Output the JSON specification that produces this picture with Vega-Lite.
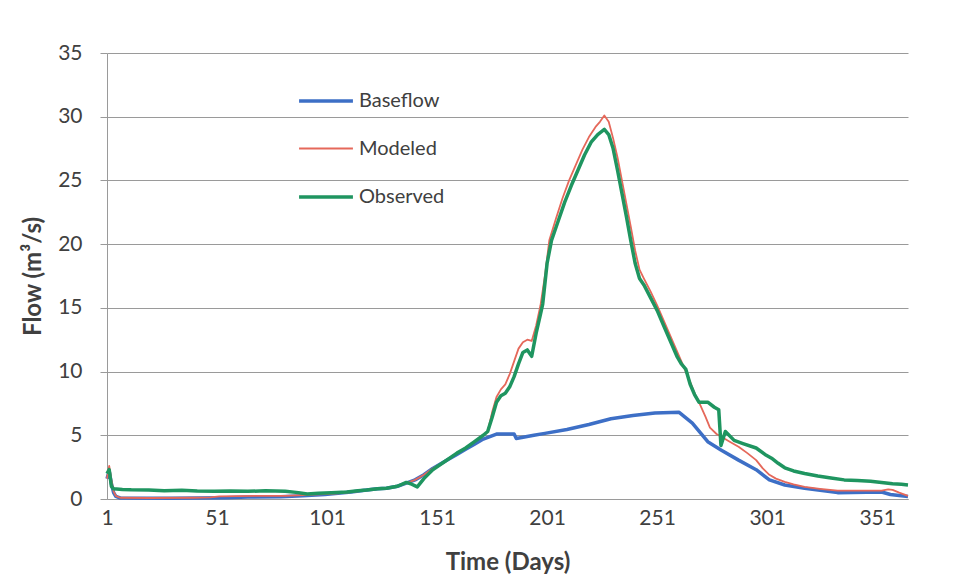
{
  "$schema": "https://vega.github.io/schema/vega-lite/v6.json",
  "width": 801,
  "height": 446,
  "autosize": {"type": "none"},
  "padding": {"left": 107, "top": 53, "right": 52, "bottom": 81},
  "background": "white",
  "config": {
    "view": {"stroke": null},
    "font": "Lato",
    "axis": {"labelFont": "Lato", "titleFont": "Lato", "labelColor": "#404040", "titleColor": "#404040"},
    "legend": {"labelFont": "Lato"}
  },
  "datasets": {
    "flows": [
      {"day": 1, "series": "Baseflow", "flow": 1.6}, {"day": 2, "series": "Baseflow", "flow": 2.2}, {"day": 3, "series": "Baseflow", "flow": 1.2}, {"day": 4, "series": "Baseflow", "flow": 0.5}, {"day": 5, "series": "Baseflow", "flow": 0.2}, {"day": 7, "series": "Baseflow", "flow": 0.08}, {"day": 30, "series": "Baseflow", "flow": 0.06}, {"day": 55, "series": "Baseflow", "flow": 0.1}, {"day": 65, "series": "Baseflow", "flow": 0.15}, {"day": 80, "series": "Baseflow", "flow": 0.18}, {"day": 90, "series": "Baseflow", "flow": 0.25}, {"day": 100, "series": "Baseflow", "flow": 0.35}, {"day": 106, "series": "Baseflow", "flow": 0.45}, {"day": 112, "series": "Baseflow", "flow": 0.55}, {"day": 119, "series": "Baseflow", "flow": 0.7}, {"day": 124, "series": "Baseflow", "flow": 0.8}, {"day": 128, "series": "Baseflow", "flow": 0.85}, {"day": 133, "series": "Baseflow", "flow": 1.0}, {"day": 137, "series": "Baseflow", "flow": 1.25}, {"day": 141, "series": "Baseflow", "flow": 1.5}, {"day": 145, "series": "Baseflow", "flow": 1.9}, {"day": 149, "series": "Baseflow", "flow": 2.4}, {"day": 155, "series": "Baseflow", "flow": 3.0}, {"day": 160, "series": "Baseflow", "flow": 3.5}, {"day": 164, "series": "Baseflow", "flow": 3.9}, {"day": 168, "series": "Baseflow", "flow": 4.3}, {"day": 172, "series": "Baseflow", "flow": 4.7}, {"day": 175, "series": "Baseflow", "flow": 4.9}, {"day": 178, "series": "Baseflow", "flow": 5.1}, {"day": 186, "series": "Baseflow", "flow": 5.1}, {"day": 187, "series": "Baseflow", "flow": 4.75}, {"day": 195, "series": "Baseflow", "flow": 5.0}, {"day": 200, "series": "Baseflow", "flow": 5.15}, {"day": 210, "series": "Baseflow", "flow": 5.45}, {"day": 220, "series": "Baseflow", "flow": 5.85}, {"day": 230, "series": "Baseflow", "flow": 6.3}, {"day": 240, "series": "Baseflow", "flow": 6.55}, {"day": 250, "series": "Baseflow", "flow": 6.75}, {"day": 261, "series": "Baseflow", "flow": 6.8}, {"day": 267, "series": "Baseflow", "flow": 5.95}, {"day": 274, "series": "Baseflow", "flow": 4.5}, {"day": 280, "series": "Baseflow", "flow": 3.85}, {"day": 288, "series": "Baseflow", "flow": 3.05}, {"day": 296, "series": "Baseflow", "flow": 2.3}, {"day": 302, "series": "Baseflow", "flow": 1.5}, {"day": 309, "series": "Baseflow", "flow": 1.1}, {"day": 318, "series": "Baseflow", "flow": 0.85}, {"day": 333, "series": "Baseflow", "flow": 0.5}, {"day": 353, "series": "Baseflow", "flow": 0.55}, {"day": 357, "series": "Baseflow", "flow": 0.35}, {"day": 365, "series": "Baseflow", "flow": 0.2},

      {"day": 1, "series": "Modeled", "flow": 1.6}, {"day": 2, "series": "Modeled", "flow": 2.6}, {"day": 3, "series": "Modeled", "flow": 1.5}, {"day": 4, "series": "Modeled", "flow": 0.6}, {"day": 5, "series": "Modeled", "flow": 0.25}, {"day": 7, "series": "Modeled", "flow": 0.1}, {"day": 20, "series": "Modeled", "flow": 0.08}, {"day": 40, "series": "Modeled", "flow": 0.1}, {"day": 48, "series": "Modeled", "flow": 0.12}, {"day": 52, "series": "Modeled", "flow": 0.2}, {"day": 60, "series": "Modeled", "flow": 0.22}, {"day": 70, "series": "Modeled", "flow": 0.25}, {"day": 82, "series": "Modeled", "flow": 0.25}, {"day": 90, "series": "Modeled", "flow": 0.3}, {"day": 100, "series": "Modeled", "flow": 0.38}, {"day": 106, "series": "Modeled", "flow": 0.45}, {"day": 112, "series": "Modeled", "flow": 0.55}, {"day": 119, "series": "Modeled", "flow": 0.7}, {"day": 124, "series": "Modeled", "flow": 0.8}, {"day": 128, "series": "Modeled", "flow": 0.85}, {"day": 133, "series": "Modeled", "flow": 1.0}, {"day": 137, "series": "Modeled", "flow": 1.25}, {"day": 141, "series": "Modeled", "flow": 1.5}, {"day": 145, "series": "Modeled", "flow": 1.9}, {"day": 149, "series": "Modeled", "flow": 2.4}, {"day": 155, "series": "Modeled", "flow": 3.0}, {"day": 160, "series": "Modeled", "flow": 3.6}, {"day": 164, "series": "Modeled", "flow": 4.0}, {"day": 168, "series": "Modeled", "flow": 4.5}, {"day": 172, "series": "Modeled", "flow": 5.0}, {"day": 174, "series": "Modeled", "flow": 5.3}, {"day": 176, "series": "Modeled", "flow": 6.8}, {"day": 178, "series": "Modeled", "flow": 8.0}, {"day": 180, "series": "Modeled", "flow": 8.6}, {"day": 182, "series": "Modeled", "flow": 9.0}, {"day": 184, "series": "Modeled", "flow": 9.8}, {"day": 186, "series": "Modeled", "flow": 10.8}, {"day": 188, "series": "Modeled", "flow": 11.8}, {"day": 190, "series": "Modeled", "flow": 12.3}, {"day": 192, "series": "Modeled", "flow": 12.5}, {"day": 194, "series": "Modeled", "flow": 12.4}, {"day": 196, "series": "Modeled", "flow": 13.6}, {"day": 198, "series": "Modeled", "flow": 15.2}, {"day": 200, "series": "Modeled", "flow": 17.5}, {"day": 202, "series": "Modeled", "flow": 20.3}, {"day": 205, "series": "Modeled", "flow": 22.0}, {"day": 208, "series": "Modeled", "flow": 23.6}, {"day": 211, "series": "Modeled", "flow": 25.0}, {"day": 214, "series": "Modeled", "flow": 26.2}, {"day": 217, "series": "Modeled", "flow": 27.4}, {"day": 220, "series": "Modeled", "flow": 28.4}, {"day": 223, "series": "Modeled", "flow": 29.2}, {"day": 225, "series": "Modeled", "flow": 29.6}, {"day": 227, "series": "Modeled", "flow": 30.1}, {"day": 229, "series": "Modeled", "flow": 29.6}, {"day": 231, "series": "Modeled", "flow": 28.3}, {"day": 233, "series": "Modeled", "flow": 26.8}, {"day": 235, "series": "Modeled", "flow": 25.0}, {"day": 237, "series": "Modeled", "flow": 23.2}, {"day": 239, "series": "Modeled", "flow": 21.4}, {"day": 241, "series": "Modeled", "flow": 19.5}, {"day": 243, "series": "Modeled", "flow": 18.0}, {"day": 245, "series": "Modeled", "flow": 17.3}, {"day": 248, "series": "Modeled", "flow": 16.3}, {"day": 251, "series": "Modeled", "flow": 15.2}, {"day": 254, "series": "Modeled", "flow": 14.0}, {"day": 257, "series": "Modeled", "flow": 12.8}, {"day": 260, "series": "Modeled", "flow": 11.6}, {"day": 263, "series": "Modeled", "flow": 10.4}, {"day": 266, "series": "Modeled", "flow": 9.2}, {"day": 268, "series": "Modeled", "flow": 8.3}, {"day": 270, "series": "Modeled", "flow": 7.6}, {"day": 273, "series": "Modeled", "flow": 6.45}, {"day": 275, "series": "Modeled", "flow": 5.6}, {"day": 278, "series": "Modeled", "flow": 5.1}, {"day": 280, "series": "Modeled", "flow": 4.9}, {"day": 284, "series": "Modeled", "flow": 4.5}, {"day": 288, "series": "Modeled", "flow": 4.1}, {"day": 292, "series": "Modeled", "flow": 3.6}, {"day": 296, "series": "Modeled", "flow": 3.05}, {"day": 299, "series": "Modeled", "flow": 2.4}, {"day": 302, "series": "Modeled", "flow": 1.9}, {"day": 305, "series": "Modeled", "flow": 1.6}, {"day": 309, "series": "Modeled", "flow": 1.35}, {"day": 313, "series": "Modeled", "flow": 1.15}, {"day": 318, "series": "Modeled", "flow": 0.95}, {"day": 325, "series": "Modeled", "flow": 0.8}, {"day": 333, "series": "Modeled", "flow": 0.65}, {"day": 345, "series": "Modeled", "flow": 0.65}, {"day": 353, "series": "Modeled", "flow": 0.65}, {"day": 356, "series": "Modeled", "flow": 0.75}, {"day": 358, "series": "Modeled", "flow": 0.72}, {"day": 361, "series": "Modeled", "flow": 0.5}, {"day": 365, "series": "Modeled", "flow": 0.25},

      {"day": 1, "series": "Observed", "flow": 2.0}, {"day": 2, "series": "Observed", "flow": 2.3}, {"day": 3, "series": "Observed", "flow": 1.0}, {"day": 4, "series": "Observed", "flow": 0.8}, {"day": 8, "series": "Observed", "flow": 0.75}, {"day": 12, "series": "Observed", "flow": 0.72}, {"day": 20, "series": "Observed", "flow": 0.7}, {"day": 27, "series": "Observed", "flow": 0.65}, {"day": 35, "series": "Observed", "flow": 0.68}, {"day": 42, "series": "Observed", "flow": 0.62}, {"day": 50, "series": "Observed", "flow": 0.6}, {"day": 57, "series": "Observed", "flow": 0.62}, {"day": 65, "series": "Observed", "flow": 0.6}, {"day": 73, "series": "Observed", "flow": 0.65}, {"day": 82, "series": "Observed", "flow": 0.6}, {"day": 88, "series": "Observed", "flow": 0.5}, {"day": 92, "series": "Observed", "flow": 0.4}, {"day": 97, "series": "Observed", "flow": 0.45}, {"day": 103, "series": "Observed", "flow": 0.5}, {"day": 110, "series": "Observed", "flow": 0.55}, {"day": 115, "series": "Observed", "flow": 0.65}, {"day": 119, "series": "Observed", "flow": 0.7}, {"day": 124, "series": "Observed", "flow": 0.8}, {"day": 128, "series": "Observed", "flow": 0.85}, {"day": 133, "series": "Observed", "flow": 1.0}, {"day": 137, "series": "Observed", "flow": 1.3}, {"day": 139, "series": "Observed", "flow": 1.2}, {"day": 142, "series": "Observed", "flow": 0.95}, {"day": 145, "series": "Observed", "flow": 1.6}, {"day": 149, "series": "Observed", "flow": 2.3}, {"day": 155, "series": "Observed", "flow": 3.0}, {"day": 160, "series": "Observed", "flow": 3.6}, {"day": 164, "series": "Observed", "flow": 4.0}, {"day": 168, "series": "Observed", "flow": 4.5}, {"day": 172, "series": "Observed", "flow": 5.0}, {"day": 174, "series": "Observed", "flow": 5.3}, {"day": 176, "series": "Observed", "flow": 6.4}, {"day": 178, "series": "Observed", "flow": 7.6}, {"day": 180, "series": "Observed", "flow": 8.1}, {"day": 182, "series": "Observed", "flow": 8.3}, {"day": 184, "series": "Observed", "flow": 8.8}, {"day": 186, "series": "Observed", "flow": 9.6}, {"day": 188, "series": "Observed", "flow": 10.6}, {"day": 190, "series": "Observed", "flow": 11.5}, {"day": 192, "series": "Observed", "flow": 11.7}, {"day": 194, "series": "Observed", "flow": 11.2}, {"day": 196, "series": "Observed", "flow": 13.0}, {"day": 198, "series": "Observed", "flow": 14.5}, {"day": 199, "series": "Observed", "flow": 15.3}, {"day": 201, "series": "Observed", "flow": 18.5}, {"day": 203, "series": "Observed", "flow": 20.3}, {"day": 206, "series": "Observed", "flow": 21.8}, {"day": 209, "series": "Observed", "flow": 23.3}, {"day": 212, "series": "Observed", "flow": 24.6}, {"day": 215, "series": "Observed", "flow": 25.8}, {"day": 218, "series": "Observed", "flow": 27.0}, {"day": 221, "series": "Observed", "flow": 28.0}, {"day": 224, "series": "Observed", "flow": 28.6}, {"day": 227, "series": "Observed", "flow": 29.0}, {"day": 229, "series": "Observed", "flow": 28.6}, {"day": 231, "series": "Observed", "flow": 27.5}, {"day": 233, "series": "Observed", "flow": 25.8}, {"day": 235, "series": "Observed", "flow": 24.0}, {"day": 237, "series": "Observed", "flow": 22.2}, {"day": 239, "series": "Observed", "flow": 20.3}, {"day": 241, "series": "Observed", "flow": 18.5}, {"day": 243, "series": "Observed", "flow": 17.3}, {"day": 245, "series": "Observed", "flow": 16.8}, {"day": 248, "series": "Observed", "flow": 15.8}, {"day": 251, "series": "Observed", "flow": 14.8}, {"day": 254, "series": "Observed", "flow": 13.6}, {"day": 257, "series": "Observed", "flow": 12.4}, {"day": 260, "series": "Observed", "flow": 11.2}, {"day": 262, "series": "Observed", "flow": 10.6}, {"day": 264, "series": "Observed", "flow": 10.2}, {"day": 266, "series": "Observed", "flow": 9.0}, {"day": 268, "series": "Observed", "flow": 8.2}, {"day": 270, "series": "Observed", "flow": 7.6}, {"day": 274, "series": "Observed", "flow": 7.6}, {"day": 277, "series": "Observed", "flow": 7.2}, {"day": 279, "series": "Observed", "flow": 7.0}, {"day": 280, "series": "Observed", "flow": 4.2}, {"day": 282, "series": "Observed", "flow": 5.3}, {"day": 286, "series": "Observed", "flow": 4.6}, {"day": 290, "series": "Observed", "flow": 4.35}, {"day": 296, "series": "Observed", "flow": 4.0}, {"day": 300, "series": "Observed", "flow": 3.5}, {"day": 303, "series": "Observed", "flow": 3.2}, {"day": 306, "series": "Observed", "flow": 2.8}, {"day": 309, "series": "Observed", "flow": 2.45}, {"day": 313, "series": "Observed", "flow": 2.2}, {"day": 318, "series": "Observed", "flow": 2.0}, {"day": 324, "series": "Observed", "flow": 1.8}, {"day": 330, "series": "Observed", "flow": 1.65}, {"day": 336, "series": "Observed", "flow": 1.5}, {"day": 342, "series": "Observed", "flow": 1.45}, {"day": 348, "series": "Observed", "flow": 1.4}, {"day": 353, "series": "Observed", "flow": 1.3}, {"day": 358, "series": "Observed", "flow": 1.2}, {"day": 362, "series": "Observed", "flow": 1.15}, {"day": 365, "series": "Observed", "flow": 1.1}
    ]
  },
  "data": {"name": "flows"},
  "mark": {"type": "line", "strokeJoin": "round", "strokeCap": "butt"},
  "encoding": {
    "x": {
      "field": "day", "type": "quantitative",
      "scale": {"domain": [1, 365], "nice": false, "zero": false},
      "axis": {
        "values": [1, 51, 101, 151, 201, 251, 301, 351],
        "title": "Time (Days)", "titleFontSize": 24, "titleFontWeight": "bold", "titlePadding": 22,
        "labelFontSize": 21, "labelPadding": 8, "ticks": false, "grid": false,
        "domain": true, "domainColor": "#9a9a9a", "labelFlush": false
      }
    },
    "y": {
      "field": "flow", "type": "quantitative",
      "scale": {"domain": [0, 35], "nice": false},
      "axis": {
        "values": [0, 5, 10, 15, 20, 25, 30, 35],
        "title": "Flow (m³/s)", "titleFontSize": 24, "titleFontWeight": "bold", "titlePadding": 12,
        "labelFontSize": 21, "labelPadding": 18, "tickSize": 7, "tickColor": "#9a9a9a",
        "grid": true, "gridColor": "#9a9a9a", "gridWidth": 1,
        "domain": true, "domainColor": "#9a9a9a"
      }
    },
    "color": {
      "field": "series", "type": "nominal",
      "scale": {"domain": ["Baseflow", "Modeled", "Observed"], "range": ["#3d6fc6", "#e5685a", "#1f9560"]},
      "legend": {
        "title": null, "orient": "none", "legendX": 190, "legendY": 19,
        "symbolType": "stroke", "symbolSize": 2900,
        "labelFontSize": 20, "labelColor": "#404040", "labelOffset": 4, "rowPadding": 9.5, "padding": 0
      }
    },
    "strokeWidth": {
      "field": "series", "type": "nominal",
      "scale": {"type": "ordinal", "domain": ["Baseflow", "Modeled", "Observed"], "range": [3.5, 1.8, 3.5]},
      "legend": {
        "title": null, "orient": "none", "legendX": 190, "legendY": 19,
        "symbolType": "stroke", "symbolSize": 2900,
        "labelFontSize": 20, "labelColor": "#404040", "labelOffset": 4, "rowPadding": 9.5, "padding": 0
      }
    }
  }
}
